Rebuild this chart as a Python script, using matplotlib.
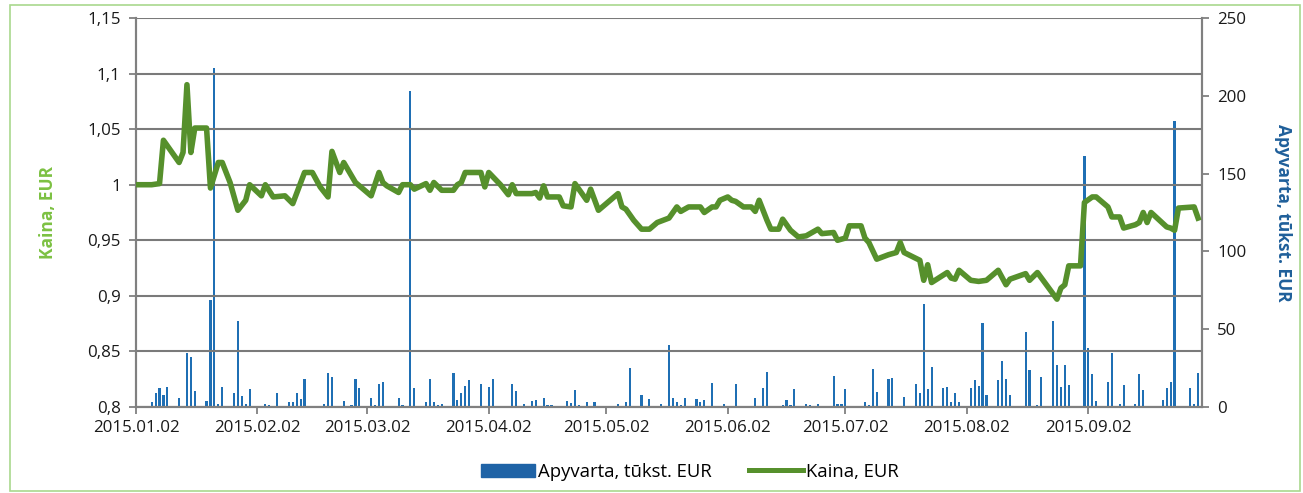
import numpy as np
import pandas as pd
import matplotlib
matplotlib.use("Agg")
import matplotlib.pyplot as plt
import matplotlib.dates as mdates
from matplotlib.patches import Rectangle, Patch
from matplotlib.lines import Line2D

# Kaina (price), EUR
price_dates = [
    "01-02", "01-06", "01-08", "01-09", "01-13", "01-14", "01-15", "01-16", "01-17", "01-20",
    "01-21", "01-23", "01-24", "01-26", "01-28", "01-30", "01-31", "02-03", "02-04", "02-06",
    "02-09", "02-11", "02-14", "02-16", "02-18", "02-20", "02-21", "02-23", "02-24", "02-27",
    "02-28", "03-03", "03-05", "03-06", "03-07", "03-10", "03-11", "03-13", "03-14", "03-17",
    "03-18", "03-19", "03-21", "03-24", "03-25", "03-26", "03-27", "03-31", "04-01", "04-02",
    "04-05", "04-07", "04-08", "04-09", "04-13", "04-14", "04-15", "04-16", "04-17", "04-20",
    "04-21", "04-23", "04-24", "04-27", "04-28", "04-30", "05-05", "05-06", "05-07", "05-09",
    "05-11", "05-13", "05-15", "05-18", "05-20", "05-21", "05-23", "05-26", "05-27", "05-29",
    "05-30", "05-31", "06-02", "06-03", "06-04", "06-06", "06-08", "06-09", "06-10", "06-12",
    "06-13", "06-15", "06-16", "06-18", "06-20", "06-22", "06-23", "06-25", "06-26", "06-29",
    "06-30", "07-02", "07-03", "07-06", "07-07", "07-08", "07-10", "07-13", "07-15", "07-16",
    "07-17", "07-21", "07-22", "07-23", "07-24", "07-28", "07-29", "07-30", "07-31", "08-03",
    "08-05", "08-07", "08-10", "08-12", "08-13", "08-17", "08-18", "08-20", "08-25", "08-26",
    "08-27", "08-28", "08-31", "09-01", "09-03", "09-04", "09-07", "09-08", "09-10", "09-11",
    "09-14", "09-15", "09-16", "09-17", "09-18", "09-22", "09-23", "09-24", "09-25", "09-29",
    "09-30",
]
price = [
    1.000, 1.000, 1.001, 1.040, 1.020, 1.029, 1.090, 1.029, 1.051, 1.051,
    0.997, 1.020, 1.020, 1.002, 0.977, 0.986, 1.000, 0.990, 1.000, 0.989,
    0.990, 0.983, 1.011, 1.011, 0.998, 0.989, 1.030, 1.011, 1.020, 1.002,
    0.999, 0.990, 1.011, 1.002, 0.999, 0.993, 1.000, 1.000, 0.996, 1.001,
    0.995, 1.002, 0.995, 0.995, 1.000, 1.002, 1.011, 1.011, 0.998, 1.011,
    1.000, 0.991, 1.000, 0.992, 0.992, 0.993, 0.988, 0.999, 0.989, 0.989,
    0.981, 0.980, 1.001, 0.986, 0.996, 0.977, 0.992, 0.980, 0.978, 0.968,
    0.960, 0.960, 0.966, 0.970, 0.980, 0.976, 0.980, 0.980, 0.975, 0.980,
    0.980, 0.986, 0.989, 0.986, 0.985, 0.980, 0.980, 0.976, 0.986, 0.968,
    0.960, 0.960, 0.969, 0.959, 0.953, 0.954, 0.956, 0.960, 0.956, 0.957,
    0.950, 0.952, 0.963, 0.963, 0.952, 0.948, 0.933, 0.937, 0.939, 0.948,
    0.939, 0.932, 0.914, 0.928, 0.912, 0.921, 0.916, 0.915, 0.923, 0.914,
    0.913, 0.914, 0.923, 0.910, 0.915, 0.920, 0.914, 0.921, 0.897, 0.907,
    0.910, 0.927, 0.927, 0.984, 0.989, 0.989, 0.980, 0.971, 0.971, 0.961,
    0.964, 0.966, 0.975, 0.966, 0.975, 0.962, 0.961, 0.959, 0.979, 0.980,
    0.970,
]

# Apyvarta (turnover), thousand EUR
vol_dates = [
    "01-02", "01-06", "01-07", "01-08", "01-09", "01-10", "01-13", "01-14", "01-15", "01-16",
    "01-17", "01-20", "01-21", "01-22", "01-23", "01-24", "01-27", "01-28", "01-29", "01-30",
    "01-31", "02-03", "02-04", "02-05", "02-06", "02-07", "02-10", "02-11", "02-12", "02-13",
    "02-14", "02-17", "02-19", "02-20", "02-21", "02-24", "02-26", "02-27", "02-28", "03-03",
    "03-04", "03-05", "03-06", "03-10", "03-11", "03-13", "03-14", "03-17", "03-18", "03-19",
    "03-20", "03-21", "03-24", "03-25", "03-26", "03-27", "03-28", "03-31", "04-01", "04-02",
    "04-03", "04-08", "04-09", "04-10", "04-11", "04-13", "04-14", "04-16", "04-17", "04-18",
    "04-22", "04-23", "04-24", "04-25", "04-27", "04-28", "04-29", "04-30", "05-05", "05-07",
    "05-08", "05-11", "05-13", "05-16", "05-18", "05-19", "05-20", "05-21", "05-22", "05-25",
    "05-26", "05-27", "05-28", "05-29", "06-01", "06-03", "06-04", "06-05", "06-08", "06-09",
    "06-11", "06-12", "06-16", "06-17", "06-18", "06-19", "06-22", "06-23", "06-25", "06-26",
    "06-29", "06-30", "07-01", "07-02", "07-07", "07-08", "07-09", "07-10", "07-13", "07-14",
    "07-17", "07-20", "07-21", "07-22", "07-23", "07-24", "07-27", "07-28", "07-29", "07-30",
    "07-31", "08-03", "08-04", "08-05", "08-06", "08-07", "08-10", "08-11", "08-12", "08-13",
    "08-17", "08-18", "08-19", "08-20", "08-21", "08-24", "08-25", "08-26", "08-27", "08-28",
    "09-01", "09-02", "09-03", "09-04", "09-07", "09-08", "09-10", "09-11", "09-14", "09-15",
    "09-16", "09-17", "09-21", "09-22", "09-23", "09-24", "09-28", "09-29", "09-30",
]
volume = [
    5, 3, 9, 12, 8, 13, 6, 0.5, 35, 32,
    10, 4, 69, 218, 2, 13, 9, 55, 7, 2,
    11.5, 0.5, 2, 1.5, 0.5, 9, 3.5, 3, 9, 5,
    18, 0.5, 2, 22, 19.5, 4, 1, 18, 12, 6,
    1, 15, 16, 6, 1.5, 203, 12, 3, 18, 3.5,
    1, 2, 22, 4.5, 9, 13.5, 17.5, 14.5, 0.5, 13,
    18, 14.5, 10.5, 0.5, 2, 4, 4.5, 6, 1.5, 1,
    4, 2.5, 11, 1.5, 3.3, 0.5, 3.5, 0.5, 1.7, 3.5,
    25, 7.5, 5, 2, 40, 5.5, 3, 1, 6, 5,
    3.5, 4.5, 0.5, 15.5, 2, 0.5, 15, 0.5, 0.5, 5.5,
    12, 22.5, 1, 4.5, 1, 11.5, 2, 1.5, 2, 0.5,
    20, 2, 1.7, 11.5, 3, 1.5, 24.5, 9.5, 18, 18.5,
    6.5, 14.5, 9, 66, 11.5, 26, 12.5, 13, 3.5, 9,
    3.5, 12.5, 17.5, 13.5, 54, 7.5, 17.5, 29.5, 18, 8,
    48, 24, 0.5, 1, 19, 55.5, 27, 13, 27, 14,
    161, 38, 21.5, 4, 16, 35, 1.7, 14, 1.7, 21,
    11, 0.5, 4.5, 12.5, 16, 184, 12.5, 1.7, 22,
]

month_ticks = ["01-02", "02-02", "03-02", "04-02", "05-02", "06-02", "07-02", "08-02", "09-02"]
price_ticks = [0.8, 0.85, 0.9, 0.95, 1.0, 1.05, 1.1, 1.15]
price_tick_labels = ["0,8", "0,85", "0,9", "0,95", "1", "1,05", "1,1", "1,15"]
vol_ticks = [0, 50, 100, 150, 200, 250]

px = pd.to_datetime(["2015-" + d for d in price_dates])
vx = pd.to_datetime(["2015-" + d for d in vol_dates])
tx = pd.to_datetime(["2015-" + d for d in month_ticks])

plt.rcParams["font.family"] = ["Open Sans", "DejaVu Sans"]

green = "#56902c"
blue = "#1f6fb4"
grey = "#808080"

fig = plt.figure(figsize=(13.03, 4.93), dpi=100)
ax = fig.add_axes([136 / 1303, 1 - 407 / 493, (1202 - 136) / 1303, (407 - 18) / 493])
ax2 = ax.twinx()

ax2.bar(vx, volume, width=0.55, color=blue, zorder=2)
ax.plot(px, price, color=green, lw=4.0, solid_joinstyle="round", zorder=3)

ax.set_zorder(ax2.get_zorder() + 1)
ax.patch.set_visible(False)

ax.set_xlim(pd.Timestamp("2015-01-02"), pd.Timestamp("2015-10-01"))
ax.set_ylim(0.8, 1.15)
ax2.set_ylim(0, 250)

ax.set_yticks(price_ticks)
ax.set_yticklabels(price_tick_labels)
ax2.set_yticks(vol_ticks)
ax.set_xticks(tx)
ax.xaxis.set_major_formatter(mdates.DateFormatter("%Y.%m.%d"))

ax.yaxis.grid(True, color="#7a7a7a", lw=1.5, zorder=0)
ax.set_axisbelow(True)

for a in (ax, ax2):
    for s in a.spines.values():
        s.set_color(grey)
        s.set_linewidth(1.5)
    a.spines["top"].set_visible(False)
    a.tick_params(colors=grey, labelcolor="#1a1a1a", labelsize=12.2, length=5, width=1.3)
ax.tick_params(axis="y", pad=6)
ax2.tick_params(axis="y", pad=6)
ax.tick_params(axis="x", pad=4)

ax.set_ylabel("Kaina, EUR", color="#7cc142", fontsize=12.5, fontweight="bold", labelpad=22)
ax2.set_ylabel("Apyvarta, tūkst. EUR", color="#1f5f9a", fontsize=12.5, fontweight="bold",
               rotation=270, labelpad=33)

handles = [Patch(color="#1f63a6"), Line2D([0], [0], color=green, lw=3.6)]
fig.legend(handles, ["Apyvarta, tūkst. EUR", "Kaina, EUR"], loc="center",
           bbox_to_anchor=(690 / 1303, 1 - 472 / 493), ncol=2, frameon=False,
           fontsize=13.3, handlelength=2.9, handleheight=0.75, columnspacing=2.0,
           handletextpad=0.2)

fig.patches.append(Rectangle((10 / 1303, 2 / 493), 1290 / 1303, 486 / 493,
                             transform=fig.transFigure, fill=False,
                             edgecolor="#a9d88e", lw=1.2))

fig.savefig("out.png", dpi=100)
